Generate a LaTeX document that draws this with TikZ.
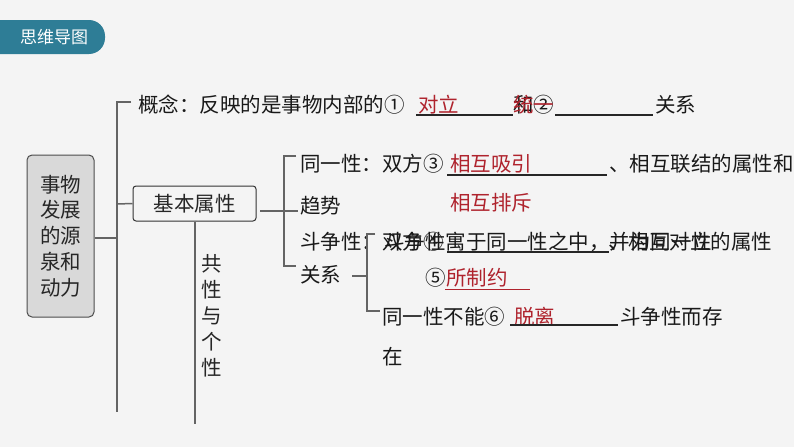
\documentclass[tikz,border=0pt]{standalone}
\usepackage{fontspec}
\setmainfont{Noto Sans CJK SC}
\definecolor{bgc}{RGB}{244,244,244}
\definecolor{tabc}{RGB}{46,125,150}
\definecolor{rootfill}{RGB}{217,217,217}
\definecolor{linegray}{RGB}{100,100,100}
\definecolor{ansred}{RGB}{175,35,45}
\newcommand{\fz}{\fontsize{20.5}{26}\selectfont}
\begin{document}
\begin{tikzpicture}[x=1pt,y=-1pt,
  txt/.style={anchor=west,inner sep=0pt,font=\fz,text=black!90},
  ans/.style={txt,text=ansred},
  ln/.style={draw=linegray,line width=1.5pt},
  ul/.style={draw=black!85,line width=1.1pt}]
\fill[bgc] (0,0) rectangle (794,447);
\useasboundingbox (0,0) rectangle (794,447);
% tab
\fill[tabc,rounded corners=16pt] (-30,20) rectangle (105,54);
\node[font=\fontsize{17}{17}\selectfont,text=white,inner sep=0pt] (tab) at (54,37) {思维导图};
% root
\node[draw=black!70,fill=rootfill,rounded corners=5pt,line width=1pt,
  minimum width=67,minimum height=162,inner sep=0pt,align=center,
  font=\fontsize{20.5}{25.8}\selectfont,text=black!85] (root) at (60.5,236) {事物\\发展\\的源\\泉和\\动力};
% trunk
\coordinate (t1) at (131,102);
\coordinate (t2) at (117,102);
\coordinate (t3) at (117,412);
\draw[ln] (t1) -- (t2) -- (t3);
\draw[ln] (root.east |- 0,238) -- (117,238);
% concept line
\node[txt] (c1) at (138,105) {概念：反映的是事物内部的①};
\node[ans] (c2) at (418,105) {对立};
\draw[ul] (416,115) -- (513,115);
\node[txt] (c3) at (513,105) {和②};
\node[ans] (c4) at (513,105) {统一};
\draw[ul] (555,115) -- (653,115);
\node[txt] (c5) at (655,105) {关系};
% basic attribute box
\node[draw=black!80,rounded corners=3pt,line width=1pt,minimum width=123,minimum height=35,
  inner sep=0pt,font=\fz,text=black!85] (basic) at (194.5,203.5) {基本属性};
\draw[ln] (117,204) -- (basic.west);
% common / individual
\coordinate (v1) at (basic.south -| 195,0);
\coordinate (v2) at (195,424);
\draw[ln] (v1) -- (v2);
\node[font=\fz,inner sep=0pt,align=center,text=black!85] (gx) at (212,316) {共\\性\\与\\个\\性};
% bracket 2
\coordinate (b0) at (260,211);
\coordinate (b1) at (298,211);
\draw[ln] (b0) -- (b1);
\draw[ln] (296,156) -- (284,156) -- (284,266) -- (296,266);
% identity
\node[txt] (i1) at (300,164) {同一性：双方③};
\node[ans] (i2) at (450,164) {相互吸引};
\draw[ul] (447,175) -- (607,175);
\node[txt] (i3) at (609,164) {、相互联结的属性和};
\node[txt] (i4) at (300,206) {趋势};
\node[ans] (i5) at (450,203) {相互排斥};
% struggle
\node[txt] (s1) at (300,242) {斗争性：双方④};
\node[txt] (s2) at (384,242) {斗争性寓于同一性之中，并为同一性};
\draw[ul] (447,252) -- (609,252);
\node[txt] (s3) at (608,242) {、相互对立的属性};
\node[txt] (r1) at (300,275) {关系};
\draw[ln] (352,276) -- (367,276);
\draw[ln] (375,234) -- (367,234) -- (367,311) -- (380,311);
\node[txt] (s4) at (425,278) {⑤};
\node[ans] (s5) at (446,278) {所制约};
\draw[draw=ansred,line width=1pt] (445,289) -- (530,289);
\node[txt] (n1) at (382,317) {同一性不能⑥};
\node[ans] (n2) at (514,317) {脱离};
\draw[ul] (510,325) -- (618,325);
\node[txt] (n3) at (620,317) {斗争性而存};
\node[txt] (n4) at (382,357) {在};
\end{tikzpicture}
\end{document}
